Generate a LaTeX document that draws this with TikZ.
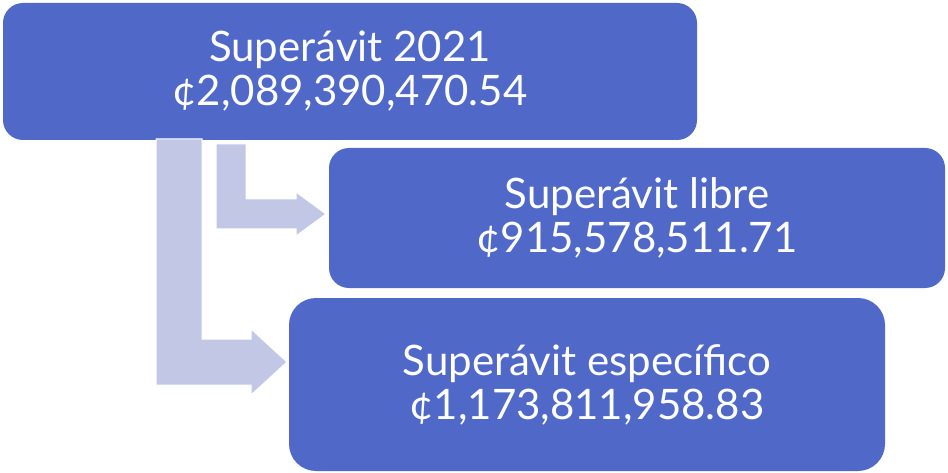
\documentclass[tikz,border=0pt]{standalone}
\usepackage{fontspec}
\setmainfont{Lato}
\definecolor{boxblue}{HTML}{5068C8}
\definecolor{arrowfill}{HTML}{C3C7E6}
\begin{document}
\begin{tikzpicture}[x=1pt,y=-1pt,
  blk/.style={fill=boxblue, text=white, align=center, inner sep=0pt,
    font=\fontsize{42}{44}\selectfont},
  barrow/.style={fill=arrowfill, draw=white, line width=1pt, line join=miter}]
\useasboundingbox (0,0) rectangle (948,473);
\node[blk, rounded corners=20pt, minimum width=694pt, minimum height=137pt] (b1) at (350,71.5)
  {Superávit 2021\\¢2,089,390,470.54};
% block arrows
\fill[barrow] (156,139) -- (202,139) -- (202,339) -- (251,339) -- (251,329) -- (287,362)
  -- (251,395) -- (251,385) -- (156,385) -- cycle;
\fill[barrow] (216,144) -- (246,144) -- (246,199) -- (296,199) -- (296,192) -- (326,214)
  -- (296,236) -- (296,229) -- (216,229) -- cycle;
\node[blk, rounded corners=20pt, minimum width=616pt, minimum height=140pt] (b2) at (637,218)
  {Superávit libre\\¢915,578,511.71};
\node[blk, rounded corners=27pt, minimum width=596pt, minimum height=173pt] (b3) at (587,384.5)
  {Superávit específico\\¢1,173,811,958.83};
\end{tikzpicture}
\end{document}
